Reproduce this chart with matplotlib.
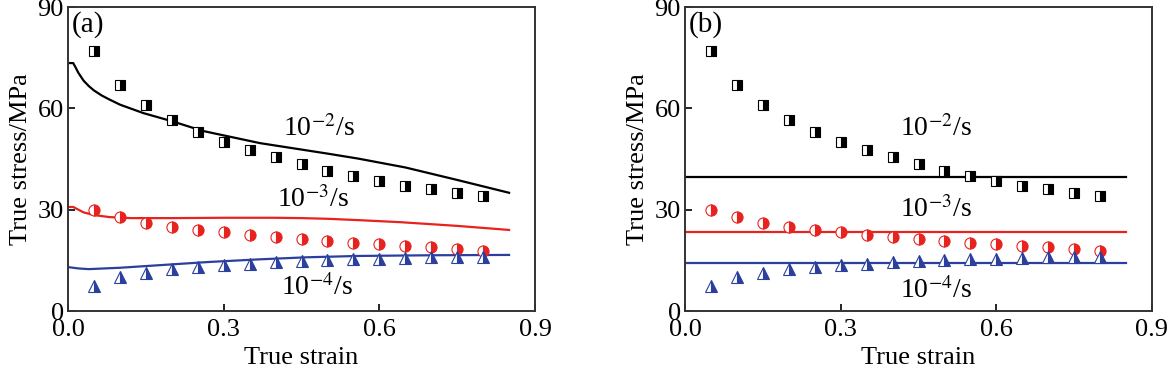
import matplotlib
matplotlib.use('Agg')
import matplotlib.pyplot as plt
import numpy as np

plt.rcParams['font.family'] = 'Liberation Serif'
plt.rcParams['mathtext.fontset'] = 'stix'
plt.rcParams['font.size'] = 19

# experimental points (same in both panels)
strain_exp = [0.05, 0.10, 0.15, 0.20, 0.25, 0.30, 0.35, 0.40,
              0.45, 0.50, 0.55, 0.60, 0.65, 0.70, 0.75, 0.80]
exp_1e2 = [77.0, 67.0, 61.0, 56.5, 53.0, 50.0, 47.6, 45.5,
           43.5, 41.5, 40.0, 38.5, 37.0, 36.0, 35.0, 34.0]
exp_1e3 = [30.0, 27.8, 26.0, 25.0, 24.0, 23.3, 22.6, 22.0,
           21.3, 20.7, 20.2, 19.7, 19.3, 18.8, 18.3, 17.9]
exp_1e4 = [7.5, 10.0, 11.3, 12.3, 13.0, 13.5, 14.0, 14.5,
           14.8, 15.0, 15.3, 15.5, 15.7, 15.9, 16.0, 16.0]

# model curves, panel (a)
strain_a2 = [0.0, 0.01, 0.015, 0.02, 0.03, 0.04, 0.05, 0.065, 0.08, 0.10,
             0.145, 0.20, 0.26, 0.37, 0.50, 0.56, 0.65, 0.75, 0.85]
model_a2 = [73.4, 73.4, 72.0, 70.5, 68.2, 66.6, 65.3, 63.8, 62.6, 61.1,
            58.6, 56.2, 53.3, 49.7, 46.6, 45.1, 42.5, 38.8, 35.0]
strain_a3 = [0.0, 0.01, 0.02, 0.03, 0.05, 0.08, 0.12, 0.20, 0.30, 0.40,
             0.45, 0.50, 0.56, 0.64, 0.75, 0.85]
model_a3 = [30.8, 30.8, 30.0, 29.2, 28.4, 27.8, 27.5, 27.5, 27.6, 27.6,
            27.5, 27.3, 26.9, 26.3, 25.2, 24.0]
strain_a4 = [0.0, 0.02, 0.04, 0.10, 0.18, 0.27, 0.37, 0.46, 0.56, 0.70, 0.85]
model_a4 = [13.0, 12.6, 12.4, 12.8, 13.6, 14.5, 15.3, 15.9, 16.3, 16.5, 16.6]

# model curves, panel (b): constant stress
strain_b = [0.0, 0.85]
model_b2 = [39.7, 39.7]
model_b3 = [23.4, 23.4]
model_b4 = [14.2, 14.2]

red = '#e8221e'
blue = '#2a3f9e'

fig = plt.figure(figsize=(11.68, 3.71), dpi=100)
ax1 = fig.add_axes([68/1168, 60/371, 467/1168, 304/371])
ax2 = fig.add_axes([685/1168, 60/371, 467/1168, 304/371])


def draw_points(ax):
    ax.plot(strain_exp, exp_1e2, 's', ms=7, fillstyle='right', color='k',
            markerfacecoloralt='white', mec='k', mew=0.8, ls='none')
    ax.plot(strain_exp, exp_1e3, 'o', ms=8, fillstyle='right', color=red,
            markerfacecoloralt='white', mec=red, mew=0.8, ls='none')
    ax.plot(strain_exp, exp_1e4, '^', ms=8, fillstyle='right', color=blue,
            markerfacecoloralt='white', mec=blue, mew=0.8, ls='none')


ax1.plot(strain_a2, model_a2, color='k', lw=1.6)
ax1.plot(strain_a3, model_a3, color=red, lw=1.6)
ax1.plot(strain_a4, model_a4, color=blue, lw=1.6)
draw_points(ax1)

ax2.plot(strain_b, model_b2, color='k', lw=1.6)
ax2.plot(strain_b, model_b3, color=red, lw=1.6)
ax2.plot(strain_b, model_b4, color=blue, lw=1.6)
draw_points(ax2)

for ax, lab in [(ax1, '(a)'), (ax2, '(b)')]:
    ax.set_xlim(0, 0.9)
    ax.set_ylim(0, 90)
    ax.set_xticks([0.0, 0.3, 0.6, 0.9])
    ax.set_xticklabels(['0.0', '0.3', '0.6', '0.9'])
    ax.set_yticks([0, 30, 60, 90])
    ax.tick_params(axis='x', direction='in', length=5, width=1.2,
                   labelsize=19, pad=6)
    ax.tick_params(axis='y', direction='in', length=5, width=1.2,
                   labelsize=19, pad=3)
    for s in ax.spines.values():
        s.set_linewidth(1.4)
        s.set_color('#333333')
    ax.set_xlabel('True strain', fontsize=19, labelpad=4)
    ax.set_ylabel('True stress/MPa', fontsize=19, labelpad=4)
    ax.text(0.008, 0.985, lab, transform=ax.transAxes, fontsize=21,
            ha='left', va='top')

ax1.text(0.414, 54, '10$^{-2}$/s', fontsize=20, va='center')
ax1.text(0.403, 33, '10$^{-3}$/s', fontsize=20, va='center')
ax1.text(0.410, 6.8, '10$^{-4}$/s', fontsize=20, va='center')
ax2.text(0.414, 54, '10$^{-2}$/s', fontsize=20, va='center')
ax2.text(0.414, 30, '10$^{-3}$/s', fontsize=20, va='center')
ax2.text(0.414, 6.2, '10$^{-4}$/s', fontsize=20, va='center')

fig.savefig('out.png', dpi=100)
